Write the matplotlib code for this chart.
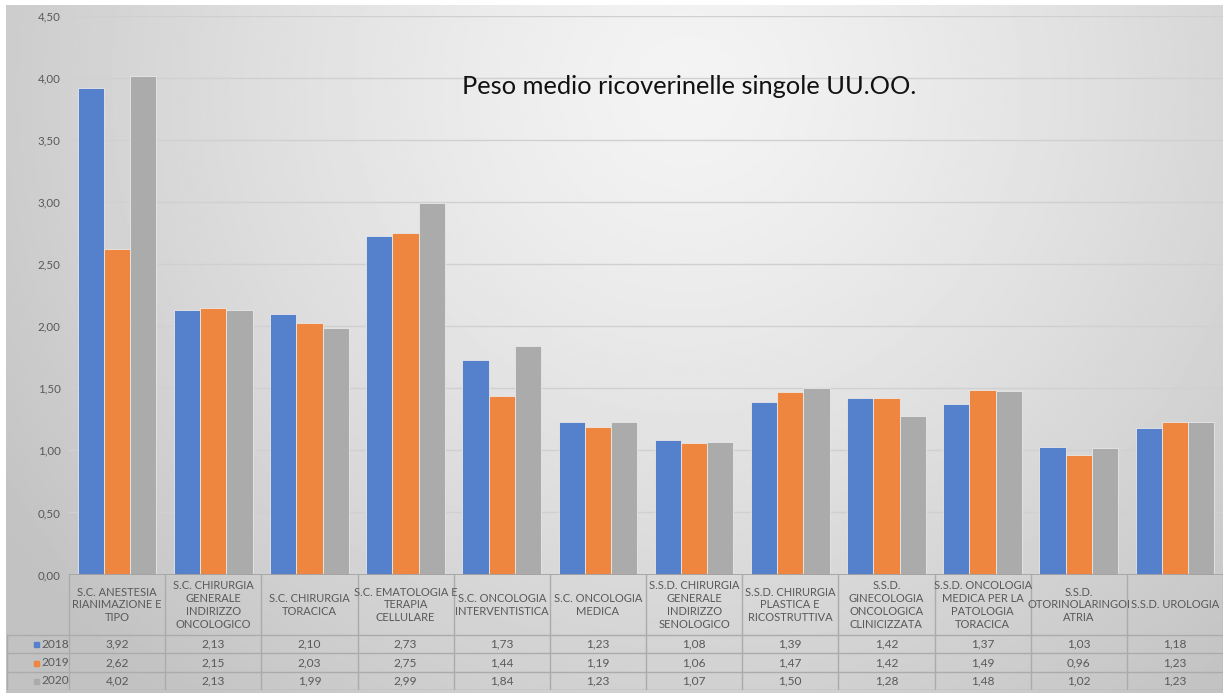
import numpy as np
import matplotlib
matplotlib.use("Agg")
import matplotlib.pyplot as plt

plt.rcParams['font.family'] = ['Lato', 'DejaVu Sans']

# reparti (unità operative) e peso medio per anno
reparti = [
    "S.C. ANESTESIA\nRIANIMAZIONE E\nTIPO",
    "S.C. CHIRURGIA\nGENERALE\nINDIRIZZO\nONCOLOGICO",
    "S.C. CHIRURGIA\nTORACICA",
    "S.C. EMATOLOGIA E\nTERAPIA\nCELLULARE",
    "S.C. ONCOLOGIA\nINTERVENTISTICA",
    "S.C. ONCOLOGIA\nMEDICA",
    "S.S.D. CHIRURGIA\nGENERALE\nINDIRIZZO\nSENOLOGICO",
    "S.S.D. CHIRURGIA\nPLASTICA E\nRICOSTRUTTIVA",
    "S.S.D.\nGINECOLOGIA\nONCOLOGICA\nCLINICIZZATA",
    "S.S.D. ONCOLOGIA\nMEDICA PER LA\nPATOLOGIA\nTORACICA",
    "S.S.D.\nOTORINOLARINGOI\nATRIA",
    "S.S.D. UROLOGIA",
]
anni = ["2018", "2019", "2020"]
peso_2018 = [3.92, 2.13, 2.10, 2.73, 1.73, 1.23, 1.08, 1.39, 1.42, 1.37, 1.03, 1.18]
peso_2019 = [2.62, 2.15, 2.03, 2.75, 1.44, 1.19, 1.06, 1.47, 1.42, 1.49, 0.96, 1.23]
peso_2020 = [4.02, 2.13, 1.99, 2.99, 1.84, 1.23, 1.07, 1.50, 1.28, 1.48, 1.02, 1.23]
serie = [peso_2018, peso_2019, peso_2020]
colori = ['#5580cc', '#ee8640', '#ababab']

W, H = 1231, 693
fig = plt.figure(figsize=(W / 100, H / 100), dpi=100)
fig.patch.set_facecolor('white')

# sfondo grigio sfumato
bg = fig.add_axes([6 / W, 0, (1223 - 6) / W, (H - 5) / H])
gx, gy = np.meshgrid(np.linspace(0, 1, 400), np.linspace(0, 1, 300))
d = np.sqrt(((gx - 0.56) / 0.58) ** 2 + ((gy - 0.12) / 1.0) ** 2)
val = np.clip(0.955 - 0.16 * d ** 1.3, 0.76, 1)
bg.imshow(val, cmap='gray', vmin=0, vmax=1, aspect='auto', extent=[0, 1, 1, 0])
bg.set_axis_off()

# grafico a barre
y0 = 574.5
ax = fig.add_axes([69 / W, 1 - y0 / H, (1223 - 69) / W, (y0 - 16) / H])
ax.set_facecolor('none')
n = len(reparti)
x = np.arange(n) + 0.5
bw = 0.273
for k, vals in enumerate(serie):
    ax.bar(x + (k - 1) * bw, vals, width=bw, color=colori[k],
           edgecolor='#e8e8e8', linewidth=0.6, zorder=3)
ax.set_xlim(0, n)
ax.set_ylim(0, 4.5)
ticks = np.arange(0, 4.51, 0.5)
ax.set_yticks(ticks)
ax.set_yticklabels([f"{t:.2f}".replace('.', ',') for t in ticks],
                   fontsize=8.3, color='#595959')
ax.tick_params(axis='y', length=0, pad=6)
ax.set_xticks([])
for t in ticks[1:]:
    ax.axhline(t, color='#d0d0d0', lw=1, zorder=1)
ax.axhline(0, color='#a3a3a3', lw=2, zorder=4)
for s in ax.spines.values():
    s.set_visible(False)

fig.text(462 / W, 1 - 87 / H, "Peso medio ricoverinelle singole UU.OO.",
         fontsize=18.3, color='#111111', va='center', ha='left')

# tabella dati sotto l'asse
top, bot = 575, 690
lc = 62 / ((1223 - 69) / n)
tab = fig.add_axes([7 / W, 1 - bot / H, (1223 - 7) / W, (bot - top) / H])
tab.set_xlim(-lc, n)
tab.set_ylim(bot - top, 0)
tab.set_axis_off()
hh = 60
rh = (bot - top - hh) / 3
lcol = '#ababab'
for i in range(n + 1):
    tab.plot([i, i], [0, bot - top], color=lcol, lw=1)
tab.plot([-lc, -lc], [hh, bot - top], color=lcol, lw=1)
for r in range(4):
    yy = hh + r * rh
    tab.plot([-lc, n], [yy, yy], color=lcol, lw=1)
for i, nome in enumerate(reparti):
    tab.text(i + 0.5, hh / 2, nome, ha='center', va='center', fontsize=8,
             color='#595959', linespacing=1.22)
for k, vals in enumerate(serie):
    yc = hh + (k + 0.5) * rh
    tab.plot([-lc + 0.3], [yc], marker='s', ms=3.6, color=colori[k], lw=0)
    tab.text(-lc + 0.36, yc, anni[k], ha='left', va='center', fontsize=8.6,
             color='#595959')
    for i, v in enumerate(vals):
        tab.text(i + 0.5, yc, f"{v:.2f}".replace('.', ','), ha='center',
                 va='center', fontsize=8.6, color='#595959')

fig.savefig('out.png', dpi=100)
